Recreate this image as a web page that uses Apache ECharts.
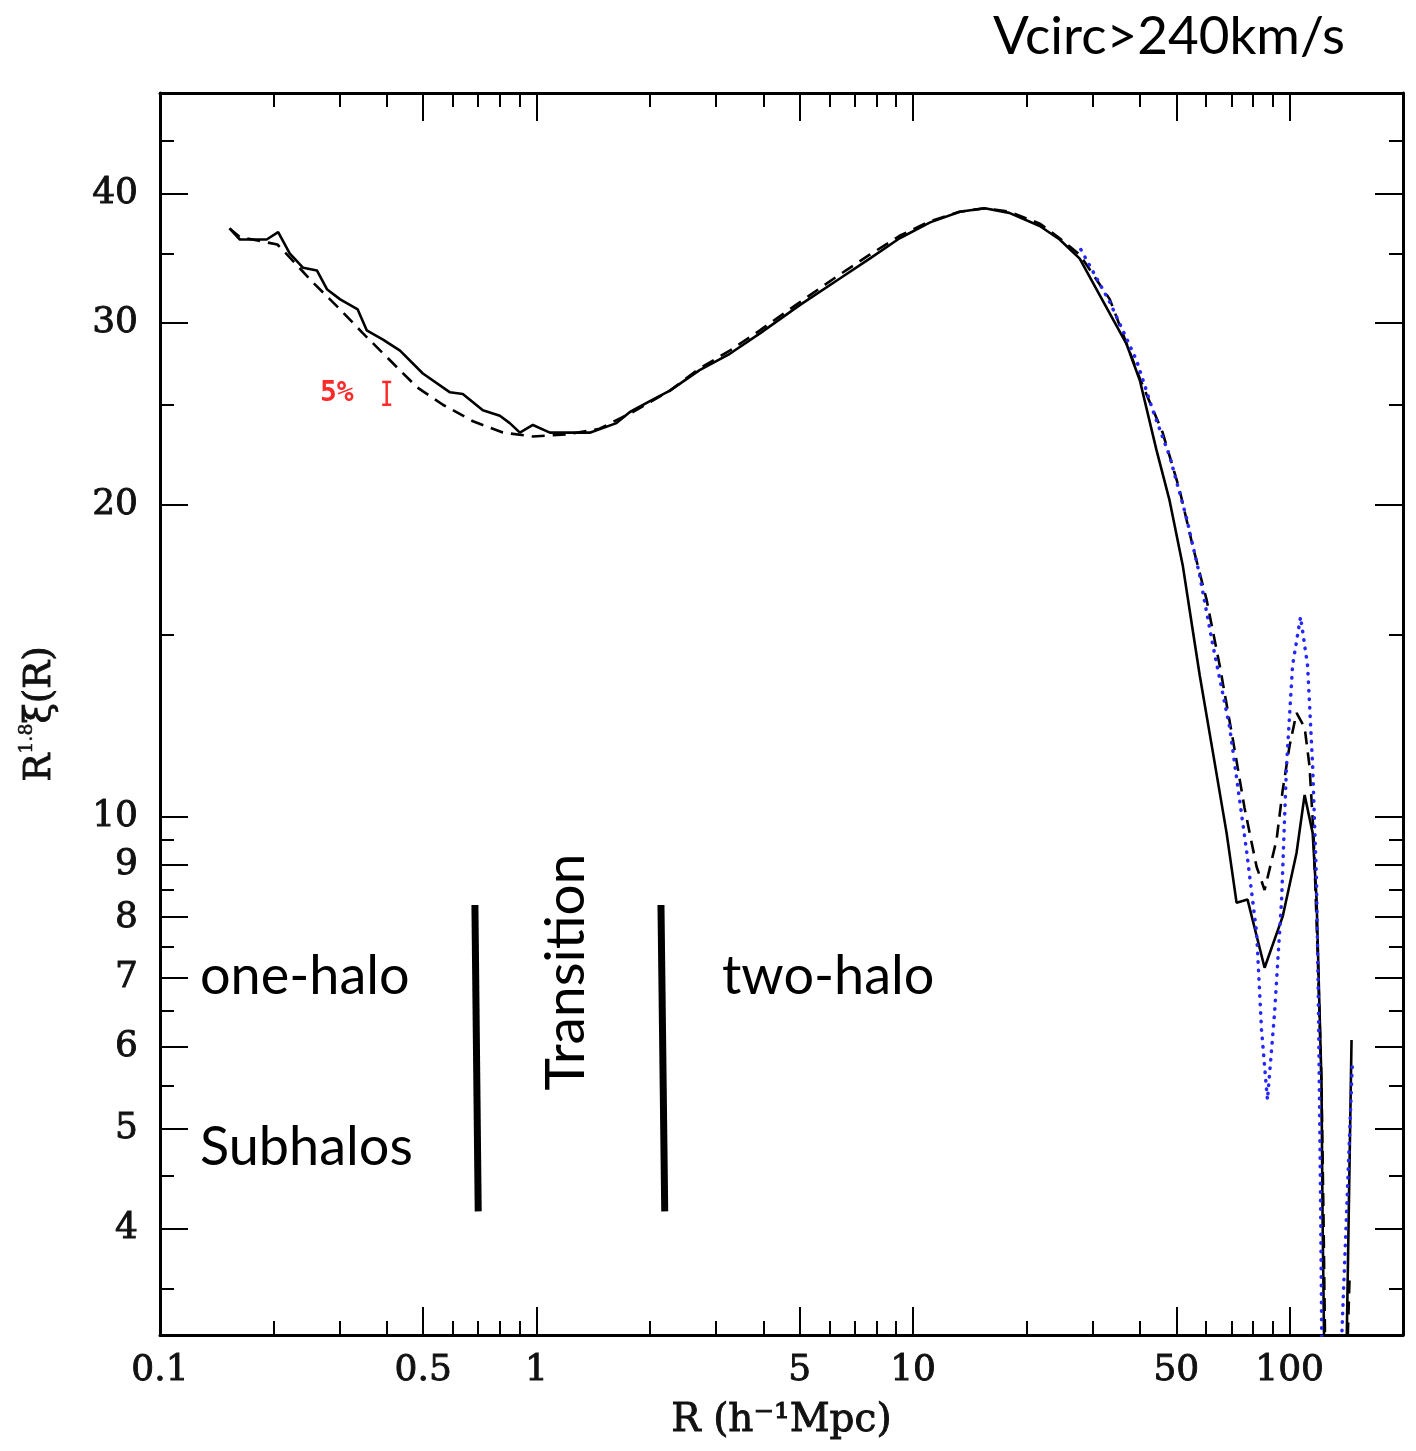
<!DOCTYPE html>
<html>
<head>
<meta charset="utf-8">
<script src="https://cdn.jsdelivr.net/npm/echarts@6/dist/echarts.min.js"></script>
<style>
html,body{margin:0;padding:0;background:#ffffff;}
#chart{width:1416px;height:1451px;}
</style>
</head>
<body>
<div id="chart"></div>
<script>
// ---- axis ticks / labels ----
const xMajorTicks = [0.5, 1, 5, 10, 50, 100];
const xMinorTicks = [0.2, 0.3, 0.4, 0.6, 0.7, 0.8, 0.9, 2, 3, 4, 6, 7, 8, 9, 20, 30, 40, 60, 70, 80, 90];
const xTickLabels = [0.1, 0.5, 1, 5, 10, 50, 100];
const yMajorTicks = [4, 5, 6, 7, 8, 9, 10, 20, 30, 40];
const yMinorTicks = [3.5, 4.5, 5.5, 6.5, 7.5, 8.5, 9.5, 15, 25, 35, 45];
const yTickLabels = [4, 5, 6, 7, 8, 9, 10, 20, 30, 40];

// ---- solid curve ----
const solidR = [0.153,0.163,0.192,0.206,0.221,0.240,0.261,0.278,0.301,0.335,0.354,0.391,0.434,0.499,0.589,0.637,0.720,0.799,0.849,0.903,0.978,1.085,1.20,1.39,1.63,1.77,2.00,2.26,2.71,3.26,3.92,5.00,6.39,7.67,9.21,11.1,13.3,15.5,18.0,21.7,24.5,27.7,31.3,36.9,40.0,44.3,48.0,52.0,55.2,57.7,62.4,68.0,72.3,77.3,85.8,95.8,104.3,109.6,115.1,117.9,120.1,121.5,122.3,125.3,139.0,146.0];
const solidV = [37.0,36.1,36.1,36.7,35.0,33.9,33.7,32.3,31.6,30.9,29.5,28.9,28.2,26.8,25.7,25.6,24.7,24.4,24.0,23.5,23.9,23.5,23.5,23.5,24.0,24.6,25.2,25.8,27.0,28.0,29.3,31.2,33.1,34.6,36.2,37.5,38.4,38.7,38.3,37.2,36.1,34.6,31.9,28.6,26.4,22.6,20.2,17.5,15.2,13.7,11.6,9.65,8.26,8.32,7.15,8.01,9.23,10.5,9.65,8.32,6.47,5.54,4.11,2.0,2.0,6.09];

// ---- dashed curve ----
const dashR = [0.153,0.163,0.205,0.221,0.255,0.301,0.346,0.408,0.481,0.564,0.678,0.814,0.978,1.20,1.47,1.80,2.26,2.71,3.26,3.92,5.00,6.39,7.67,9.21,11.1,13.3,15.5,18.0,21.7,24.5,27.7,33.3,40.0,46.0,51.0,55.2,60.2,65.2,70.6,75.9,81.7,85.8,92.3,95.8,99.9,104.3,109.6,112.9,115.7,118.6,121.5,123.0,126.1,137.3,144.2];
const dashV = [37.0,36.3,35.7,34.7,32.8,30.9,29.3,27.6,26.0,25.0,24.1,23.5,23.3,23.4,23.7,24.6,25.8,27.1,28.2,29.5,31.4,33.4,34.9,36.4,37.6,38.4,38.7,38.4,37.4,36.2,34.9,31.6,26.5,23.5,20.7,18.3,16.2,14.0,11.9,10.2,8.95,8.50,9.50,10.6,11.7,12.6,12.2,11.2,9.65,7.44,5.54,4.11,2.0,2.0,3.57];

// ---- blue dotted curve ----
const blueR = [27.9,33.3,39.2,43.3,48.0,53.3,57.7,62.4,69.3,76.8,81.7,84.2,87.3,91.2,95.2,98.1,101.8,106.9,111.6,115.1,117.9,119.3,120.8,123.0,131.0,146.9];
const blueV = [35.3,31.4,27.6,24.7,22.3,19.4,17.1,14.7,12.2,9.29,7.73,6.23,5.33,6.47,8.32,11.2,14.0,15.6,14.0,11.2,8.64,6.47,4.27,2.0,2.0,5.83];

// ---- region separator lines (R at top, R at bottom) ----
const sepTopV = 8.22, sepBotV = 4.16;
const sep1R = [0.686, 0.700];
const sep2R = [2.14, 2.19];

// ---- 5% error bar ----
const errR = 0.40, errLo = 25.0, errHi = 26.3;

const zip = (a, b) => a.map((v, i) => [v, b[i]]);
const fmt = v => String(Number(Number(v).toPrecision(6)));

const serif = '"DejaVu Serif", serif';
const sans = 'Lato, "Open Sans", sans-serif';
const serifText = (size) => ({ fontFamily: serif, fontSize: size, color: '#111',
  textBorderColor: '#111', textBorderWidth: 0.9 });

function xAx(pos, ticks, len, showLine, labels) {
  const a = {
    type: 'log', logBase: 10, min: 0.1, max: 200, position: pos,
    axisLine: { show: showLine, onZero: false, lineStyle: { color: '#000', width: 3 } },
    axisTick: { show: true, inside: true, length: len, customValues: ticks, lineStyle: { color: '#000', width: 2 } },
    axisLabel: { show: false },
    splitLine: { show: false }, minorTick: { show: false }, minorSplitLine: { show: false }
  };
  if (labels) {
    a.axisLabel = Object.assign({ show: true, customValues: labels, formatter: fmt, margin: 18 }, serifText(36));
    a.name = 'R (h\u207B\u00B9Mpc)';
    a.nameLocation = 'middle';
    a.nameGap = 66;
    a.nameTextStyle = serifText(39);
  }
  return a;
}
function yAx(pos, ticks, len, showLine, labels) {
  const a = {
    type: 'log', logBase: 10, min: 3.16, max: 50, position: pos,
    axisLine: { show: showLine, onZero: false, lineStyle: { color: '#000', width: 3 } },
    axisTick: { show: true, inside: true, length: len, customValues: ticks, lineStyle: { color: '#000', width: 2 } },
    axisLabel: { show: false },
    splitLine: { show: false }, minorTick: { show: false }, minorSplitLine: { show: false }
  };
  if (labels) {
    a.axisLabel = Object.assign({ show: true, customValues: labels, formatter: fmt, margin: 22 }, serifText(36));
    a.name = '{m|R}{s|1.8}{m|\u03BE(R)}';
    a.nameLocation = 'middle';
    a.nameRotate = 90;
    a.nameGap = 98;
    a.nameTextStyle = { rich: {
      m: Object.assign(serifText(37), { lineHeight: 44 }),
      s: Object.assign(serifText(19), { verticalAlign: 'top', lineHeight: 44, textBorderWidth: 0.5 })
    } };
  }
  return a;
}

const lineSeries = (name, data, style) => ({
  name, type: 'line', data, showSymbol: false, symbol: 'none', clip: true,
  xAxisIndex: 0, yAxisIndex: 0, silent: true, lineStyle: style, z: 3
});

const chart = echarts.init(document.getElementById('chart'), null, { renderer: 'canvas' });
chart.setOption({
  animation: false,
  backgroundColor: '#fff',
  grid: { left: 160, right: 13, top: 93, bottom: 116, containLabel: false },
  xAxis: [
    xAx('bottom', xMajorTicks, 28, true, xTickLabels),
    xAx('bottom', xMinorTicks, 14, false, null),
    xAx('top', xMajorTicks, 28, true, null),
    xAx('top', xMinorTicks, 14, false, null)
  ],
  yAxis: [
    yAx('left', yMajorTicks, 28, true, yTickLabels),
    yAx('left', yMinorTicks, 14, false, null),
    yAx('right', yMajorTicks, 28, true, null),
    yAx('right', yMinorTicks, 14, false, null)
  ],
  series: [
    lineSeries('dashed', zip(dashR, dashV), { color: '#000', width: 2.6, type: [13, 8] }),
    lineSeries('solid', zip(solidR, solidV), { color: '#000', width: 2.6 }),
    lineSeries('dotted', zip(blueR, blueV), { color: '#2626ff', width: 3.5, type: [0.5, 8], cap: 'round' }),
    lineSeries('sep1', [[sep1R[0], sepTopV], [sep1R[1], sepBotV]], { color: '#000', width: 7 }),
    lineSeries('sep2', [[sep2R[0], sepTopV], [sep2R[1], sepBotV]], { color: '#000', width: 7 }),
    {
      name: 'err', type: 'custom', xAxisIndex: 0, yAxisIndex: 0, silent: true, z: 4,
      data: [[errR, errLo, errHi]], encode: { x: 0, y: [1, 2] },
      renderItem: (params, api) => {
        const x = api.value(0);
        const p1 = api.coord([x, api.value(1)]);
        const p2 = api.coord([x, api.value(2)]);
        const w = 4.5, st = { stroke: '#ff2a2a', lineWidth: 2.5 };
        return { type: 'group', children: [
          { type: 'line', shape: { x1: p1[0], y1: p1[1], x2: p2[0], y2: p2[1] }, style: st },
          { type: 'line', shape: { x1: p1[0] - w, y1: p1[1], x2: p1[0] + w, y2: p1[1] }, style: st },
          { type: 'line', shape: { x1: p2[0] - w, y1: p2[1], x2: p2[0] + w, y2: p2[1] }, style: st }
        ] };
      }
    }
  ],
  graphic: [
    { type: 'text', x: 993, y: 37, style: { text: 'Vcirc>240km/s', font: '53px ' + sans, fill: '#000', textAlign: 'left', textVerticalAlign: 'middle' } },
    { type: 'text', x: 200, y: 977, style: { text: 'one-halo', font: '54px ' + sans, fill: '#000', textAlign: 'left', textVerticalAlign: 'middle' } },
    { type: 'text', x: 200, y: 1148, style: { text: 'Subhalos', font: '54px ' + sans, fill: '#000', textAlign: 'left', textVerticalAlign: 'middle' } },
    { type: 'text', x: 722, y: 977, style: { text: 'two-halo', font: '54px ' + sans, fill: '#000', textAlign: 'left', textVerticalAlign: 'middle' } },
    { type: 'text', x: 566, y: 972, rotation: Math.PI / 2, style: { text: 'Transition', font: '55px ' + sans, fill: '#000', textAlign: 'center', textVerticalAlign: 'middle' } },
    { type: 'text', x: 320, y: 394, style: { text: '5%', font: 'bold 28px "DejaVu Sans Mono", monospace', fill: '#ff2a2a', textAlign: 'left', textVerticalAlign: 'middle' } }
  ]
});
</script>
</body>
</html>
